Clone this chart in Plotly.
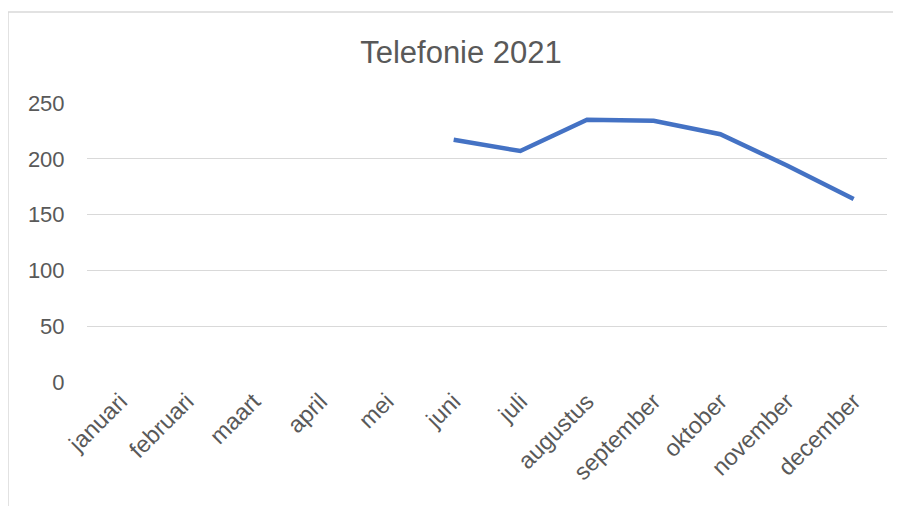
import plotly.graph_objects as go

months = ["januari", "februari", "maart", "april", "mei", "juni", "juli",
          "augustus", "september", "oktober", "november", "december"]
values = [None, None, None, None, None, 217, 207, 235, 234, 222, 194, 164]
y_ticks = [0, 50, 100, 150, 200, 250]

fig = go.Figure()
fig.add_trace(go.Scatter(
    x=months, y=values, mode="lines",
    line=dict(color="#4472C4", width=4.5),
    connectgaps=False, showlegend=False, hoverinfo="x+y",
))

font_family = "Liberation Sans, Arial, sans-serif"
W, H = 893, 498
fig.update_layout(
    width=W, height=H,
    margin=dict(l=79, r=14, t=95, b=124),
    paper_bgcolor="white", plot_bgcolor="white",
    title=dict(text="Telefonie 2021", x=(461 - 8) / W, xanchor="center",
               y=1 - (52 - 8) / H, yanchor="middle",
               font=dict(family=font_family, size=31, color="#595959")),
    font=dict(family=font_family, color="#595959"),
    xaxis=dict(
        type="category", tickangle=-45, showgrid=False, showline=False,
        zeroline=False, ticks="", automargin=False,
        tickfont=dict(family=font_family, size=23.5, color="#595959"),
        range=[-0.5, 11.5],
    ),
    yaxis=dict(
        range=[0, 250], tickvals=y_ticks, showgrid=True,
        gridcolor="#d9d9d9", gridwidth=1, zeroline=False, showline=False,
        ticks="outside", ticklen=17, tickcolor="rgba(0,0,0,0)",
        automargin=False,
        tickfont=dict(family=font_family, size=22, color="#595959"),
    ),
    shapes=[dict(
        type="rect", xref="paper", yref="paper",
        x0=-0.09875, x1=1.3, y0=-1.0, y1=1.3265,
        line=dict(color="#d9d9d9", width=1.5), fillcolor="rgba(0,0,0,0)",
        layer="below",
    )],
)

fig.write_html("out.html")
